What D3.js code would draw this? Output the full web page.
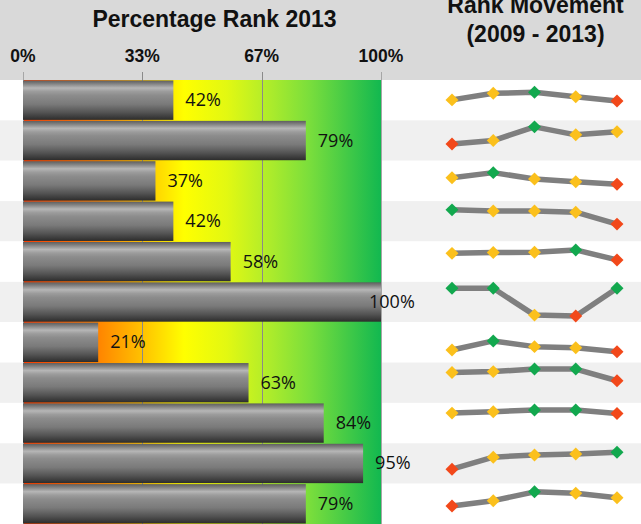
<!DOCTYPE html>
<html><head><meta charset="utf-8">
<script src="https://cdn.jsdelivr.net/npm/d3@7"></script>
<style>html,body{margin:0;padding:0;background:#fff;overflow:hidden}</style>
</head><body><svg id="c" width="641" height="524"></svg>
<script>
// ---- data ----
const categories = ["R1","R2","R3","R4","R5","R6","R7","R8","R9","R10","R11"];
const rank2013 = [42, 79, 37, 42, 58, 100, 21, 63, 84, 95, 79];
const years = [2009, 2010, 2011, 2012, 2013];
const movement = [
  [53, 76, 80, 64, 49],
  [40, 52, 100, 72, 83],
  [63, 81, 59, 49, 40],
  [92, 88, 88, 84, 42],
  [81, 84, 85, 93, 58],
  [100, 100, 6, 3, 100],
  [25, 57, 37, 33, 19],
  [88, 91, 100, 100, 59],
  [87, 92, 98, 98, 86],
  [32, 74, 82, 85, 91],
  [44, 63, 94, 89, 73]
];
const tickValues = [0, 100/3, 200/3, 100];
const tickLabels = ["0%", "33%", "67%", "100%"];
const chartTitle = "Percentage Rank 2013";
const sparkTitle = ["Rank Movement", "(2009 - 2013)"];

// ---- layout ----
const W = 641, H = 524, headerH = 80;
const svg = d3.select("#c");
const defs = svg.append("defs");

const x = d3.scaleLinear().domain([0, 100]).range([23, 381]);
const y = d3.scaleBand().domain(categories).range([headerH, H]);
const sx = d3.scalePoint().domain(years).range([452, 617]);
const sy = d3.scaleLinear().domain([0, 100]).range([35, 6.5]);

// gradients
const bg = defs.append("linearGradient").attr("id", "bg")
  .attr("gradientUnits", "userSpaceOnUse")
  .attr("x1", x(0)).attr("x2", x(100)).attr("y1", 0).attr("y2", 0);
[[0, "#ff3c00"], [0.2, "#ff7f00"], [0.33, "#ffc000"], [0.45, "#ffff00"],
 [0.57, "#e2f812"], [0.67, "#b6ee28"], [0.8, "#7ade3c"], [1, "#12b850"]]
  .forEach(([o, c]) => bg.append("stop").attr("offset", o).attr("stop-color", c));

const cyl = defs.append("linearGradient").attr("id", "cyl")
  .attr("x1", 0).attr("x2", 0).attr("y1", 0).attr("y2", 1);
[[0, "#5e5e5e"], [0.07, "#7c7c7c"], [0.19, "#b6b6b6"], [0.28, "#9c9c9c"],
 [0.38, "#8c8c8c"], [0.6, "#7a7a7a"], [0.82, "#525252"], [1, "#2c2c2c"]]
  .forEach(([o, c]) => cyl.append("stop").attr("offset", o).attr("stop-color", c));

// header band
svg.append("rect").attr("x", 0).attr("y", 0).attr("width", W).attr("height", headerH)
  .attr("fill", "#d9d9d9");

// row stripes
svg.append("g").selectAll("rect").data(categories).join("rect")
  .attr("x", 0).attr("y", d => y(d)).attr("width", W).attr("height", y.bandwidth())
  .attr("fill", (d, i) => i % 2 ? "#f0f0f0" : "#ffffff");

// gradient band
svg.append("rect").attr("x", x(0)).attr("y", headerH)
  .attr("width", x(100) - x(0)).attr("height", H - headerH).attr("fill", "url(#bg)");

// gridlines / ticks
svg.append("g").selectAll("line").data(tickValues).join("line")
  .attr("x1", d => Math.round(x(d)) + 0.5).attr("x2", d => Math.round(x(d)) + 0.5)
  .attr("y1", 72).attr("y2", H)
  .attr("stroke", (d, i) => (i === 0 || i === 3) ? "#a6a6a6" : "#8a8a8a").attr("stroke-width", 1);

// bars
svg.append("g").selectAll("rect").data(categories).join("rect")
  .attr("x", x(0)).attr("y", d => y(d) + 0.5)
  .attr("width", (d, i) => x(rank2013[i]) - x(0))
  .attr("height", y.bandwidth() - 1)
  .attr("fill", "url(#cyl)");

// value labels
svg.append("g").selectAll("text").data(categories).join("text")
  .attr("x", (d, i) => rank2013[i] >= 100 ? x(rank2013[i]) - 12 : x(rank2013[i]) + 12)
  .attr("y", d => y(d) + y.bandwidth() / 2 + 6)
  .attr("font-family", "'Open Sans', sans-serif").attr("font-size", 18)
  .attr("fill", "#111")
  .text((d, i) => rank2013[i] + "%");

// axis tick labels
svg.append("g").selectAll("text").data(tickValues).join("text")
  .attr("x", d => x(d)).attr("y", 62).attr("text-anchor", "middle")
  .attr("font-family", "'Liberation Sans', Arial, sans-serif").attr("font-weight", "bold")
  .attr("font-size", 17.5).attr("fill", "#111")
  .text((d, i) => tickLabels[i]);

// titles
svg.append("text").attr("x", 214.5).attr("y", 27).attr("text-anchor", "middle")
  .attr("font-family", "'Liberation Sans', Arial, sans-serif").attr("font-weight", "bold")
  .attr("font-size", 23).attr("fill", "#111").text(chartTitle);
svg.append("g").selectAll("text").data(sparkTitle).join("text")
  .attr("x", 535.5).attr("y", (d, i) => 13 + i * 29).attr("text-anchor", "middle")
  .attr("font-family", "'Liberation Sans', Arial, sans-serif").attr("font-weight", "bold")
  .attr("font-size", 23).attr("fill", "#111").text(d => d);

// sparklines
const line = d3.line().x((d, i) => sx(years[i])).y(d => sy(d));
const spark = svg.append("g").selectAll("g").data(categories).join("g")
  .attr("transform", d => `translate(0,${y(d)})`);
spark.append("path")
  .attr("d", (d, i) => line(movement[i]))
  .attr("fill", "none").attr("stroke", "#7f7f7f").attr("stroke-width", 5.5)
  .attr("stroke-linejoin", "round");
const sym = d3.symbol().type(d3.symbolSquare).size(84);
spark.each(function (d, i) {
  const vals = movement[i];
  const mx = d3.max(vals), mn = d3.min(vals);
  d3.select(this).selectAll("path.m").data(vals).join("path").attr("class", "m")
    .attr("d", sym)
    .attr("transform", (v, j) => `translate(${sx(years[j])},${sy(v)}) rotate(45)`)
    .attr("fill", v => v === mx ? "#12a84e" : v === mn ? "#f2481a" : "#fbc01c");
});
</script></body></html>
